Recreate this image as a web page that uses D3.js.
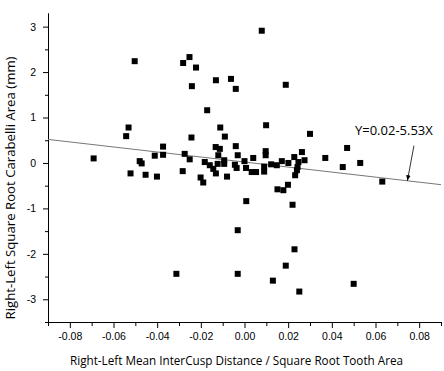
<!DOCTYPE html>
<html>
<head>
<meta charset="utf-8">
<script src="https://cdn.jsdelivr.net/npm/d3@7"></script>
<style>
  body { margin: 0; background: #fff; }
  svg { display: block; font-family: 'Open Sans', sans-serif; }
  .axis path, .axis line { stroke: #000; stroke-width: 1; }
  .axis text { fill: #000; font-size: 10.5px; }
</style>
</head>
<body>
<div id="chart"></div>
<script>
// values
const xValues = [-0.0691, -0.0531, -0.0542, -0.0503, -0.0480, -0.0471, -0.0522, -0.0453, -0.0401, -0.0411,
  -0.0373, -0.0373, -0.0312, -0.0283, -0.0274, -0.0251, -0.0243, -0.0241, -0.0252, -0.0281,
  -0.0222, -0.0201, -0.0189, -0.0182, -0.0159, -0.0143, -0.0131, -0.0171, -0.0131, -0.0132,
  -0.0113, -0.0120, -0.0123, -0.0093, -0.0093, -0.0111, -0.0090, -0.0080, -0.0062, -0.0040,
  -0.0040, -0.0031, -0.0044, -0.0036, -0.0031, -0.0031, 0.0000, 0.0007, 0.0008, 0.0040,
  0.0033, 0.0053, 0.0079, 0.0099, 0.0097, 0.0097, 0.0090, 0.0090, 0.0122, 0.0148,
  0.0171, 0.0201, 0.0189, 0.0151, 0.0178, 0.0199, 0.0189, 0.0130, 0.0220, 0.0229,
  0.0251, 0.0228, 0.0263, 0.0275, 0.0247, 0.0243, 0.0240, 0.0232, 0.0300, 0.0370,
  0.0470, 0.0450, 0.0530, 0.0631, 0.0500]
const yValues = [0.10, 0.78, 0.59, 2.24, 0.04, -0.01, -0.23, -0.26, -0.30, 0.16,
  0.36, 0.18, -2.44, -0.18, 0.20, 0.08, 0.56, 1.69, 2.33, 2.20,
  2.10, -0.32, -0.43, 0.02, -0.05, -0.13, -0.23, 1.16, 1.82, 0.35,
  0.31, 0.17, -0.02, 0.06, -0.02, 0.78, 0.58, -0.30, 1.85, 1.63,
  0.37, 0.17, -0.04, -0.11, -1.48, -2.44, 0.04, -0.11, -0.84, 0.11,
  -0.20, -0.20, 2.91, 0.83, 0.26, 0.17, -0.19, -0.08, -0.03, -0.05,
  0.04, 0.00, 1.72, -0.58, -0.60, -0.48, -2.26, -2.59, -0.92, -1.90,
  -2.83, 0.13, 0.24, 0.06, 0.02, -0.09, -0.16, -0.27, 0.64, 0.11,
  0.33, -0.09, 0.00, -0.41, -2.66]

const xTicks = [-0.08, -0.06, -0.04, -0.02, 0.00, 0.02, 0.04, 0.06, 0.08]
const xMinorTicks = [-0.09, -0.07, -0.05, -0.03, -0.01, 0.01, 0.03, 0.05, 0.07, 0.09]
const yTicks = [-3, -2, -1, 0, 1, 2, 3]
const yMinorTicks = [-3.5, -2.5, -1.5, -0.5, 0.5, 1.5, 2.5]

const xDomain = [-0.09, 0.09]
const yDomain = [-3.5, 3.3]

// regression: Y = intercept + slope * X
const intercept = 0.02
const slope = -5.53
const fitLabel = 'Y=0.02-5.53X'

const xLabel = 'Right-Left Mean InterCusp Distance / Square Root Tooth Area'
const yLabel = 'Right-Left Square Root Carabelli Area (mm)'

const svgWidth = 444
const svgHeight = 371
const margin = { top: 13, right: 3, bottom: 49, left: 48 }
const width = svgWidth - margin.left - margin.right
const height = svgHeight - margin.top - margin.bottom

const svg = d3.select('#chart').append('svg')
  .attr('width', svgWidth)
  .attr('height', svgHeight)

const g = svg.append('g')
  .attr('transform', 'translate(' + margin.left + ',' + margin.top + ')')

const xScale = d3.scaleLinear().domain(xDomain).range([0, width])
const yScale = d3.scaleLinear().domain(yDomain).range([height, 0])

// minor ticks first, then the labelled axis
g.append('g')
  .attr('class', 'axis')
  .attr('transform', 'translate(0,' + height + ')')
  .call(d3.axisBottom(xScale).tickValues(xMinorTicks).tickSize(4).tickSizeOuter(0).tickFormat(''))

g.append('g')
  .attr('class', 'axis')
  .attr('transform', 'translate(0,' + height + ')')
  .call(d3.axisBottom(xScale).tickValues(xTicks).tickSize(6).tickSizeOuter(0).tickPadding(5)
    .tickFormat(d => d.toFixed(2)))

g.append('g')
  .attr('class', 'axis')
  .call(d3.axisLeft(yScale).tickValues(yMinorTicks).tickSize(3).tickSizeOuter(0).tickFormat(''))

g.append('g')
  .attr('class', 'axis')
  .call(d3.axisLeft(yScale).tickValues(yTicks).tickSize(5).tickSizeOuter(0).tickPadding(7)
    .tickFormat(d => String(d)))

// fitted line across the whole x range
const fit = d3.line()
  .x(d => xScale(d))
  .y(d => yScale(intercept + slope * d))

g.append('path')
  .attr('d', fit(xDomain))
  .attr('fill', 'none')
  .attr('stroke', '#777')
  .attr('stroke-width', 1)

// points
const points = xValues.map((x, i) => ({ x: x, y: yValues[i] }))
const size = 6

g.selectAll('rect.pt')
  .data(points)
  .enter().append('rect')
  .attr('class', 'pt')
  .attr('x', d => xScale(d.x) - size / 2)
  .attr('y', d => yScale(d.y) - size / 2)
  .attr('width', size)
  .attr('height', size)
  .attr('fill', '#000')

// annotation arrow pointing at the fit line
svg.append('defs').append('marker')
  .attr('id', 'head')
  .attr('viewBox', '0 0 10 10')
  .attr('refX', 10)
  .attr('refY', 5)
  .attr('markerWidth', 7)
  .attr('markerHeight', 7)
  .attr('orient', 'auto')
  .append('path')
  .attr('d', 'M0,1 L10,5 L0,9 Z')
  .attr('fill', '#000')

const arrowX = 0.0746
g.append('line')
  .attr('x1', xScale(0.0776))
  .attr('y1', yScale(0.38))
  .attr('x2', xScale(arrowX))
  .attr('y2', yScale(intercept + slope * arrowX))
  .attr('stroke', '#000')
  .attr('stroke-width', 0.8)
  .attr('marker-end', 'url(#head)')

g.append('text')
  .attr('x', xScale(0.0506))
  .attr('y', yScale(0.62))
  .attr('font-size', '13px')
  .text(fitLabel)

// axis titles
svg.append('text')
  .attr('x', margin.left + width / 2 - 8)
  .attr('y', 365)
  .attr('text-anchor', 'middle')
  .attr('font-size', '12.5px')
  .attr('textLength', 333)
  .attr('lengthAdjust', 'spacingAndGlyphs')
  .text(xLabel)

svg.append('text')
  .attr('transform', 'translate(15,188) rotate(-90)')
  .attr('text-anchor', 'middle')
  .attr('font-size', '12.5px')
  .attr('textLength', 263)
  .attr('lengthAdjust', 'spacingAndGlyphs')
  .text(yLabel)
</script>
</body>
</html>
